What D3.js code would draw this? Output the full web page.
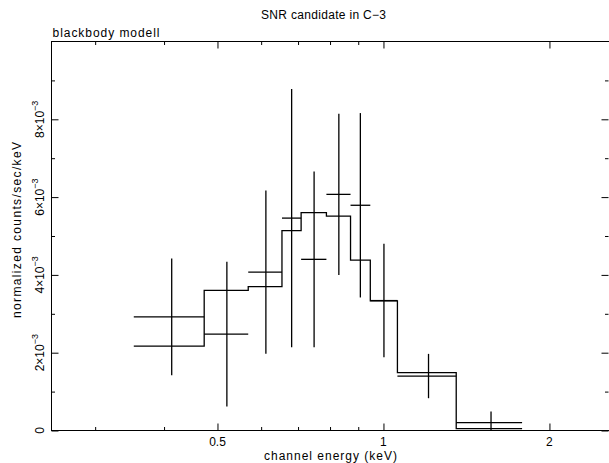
<!DOCTYPE html>
<html>
<head>
<meta charset="utf-8">
<script src="https://cdn.jsdelivr.net/npm/d3@7"></script>
<style>
  body { margin: 0; background: #fff; }
  text { font-family: "Liberation Sans", Arial, sans-serif; fill: #000; }
</style>
</head>
<body>
<svg width="609" height="463"></svg>
<script>
// channel bins (keV) and data
var binEdges = [0.3525, 0.473, 0.5685, 0.6545, 0.709, 0.788, 0.8715, 0.9465, 1.060, 1.355, 1.784];
var dataEnergy = [0.413, 0.520, 0.612, 0.6815, 0.7485, 0.830, 0.908, 1.002, 1.207, 1.567];
var dataRate = [2.92e-3, 2.48e-3, 4.07e-3, 5.46e-3, 4.40e-3, 6.07e-3, 5.79e-3, 3.34e-3, 1.40e-3, 0.20e-3];
var dataErr = [1.50e-3, 1.86e-3, 2.10e-3, 3.32e-3, 2.26e-3, 2.07e-3, 2.37e-3, 1.46e-3, 0.57e-3, 0.29e-3];
var modelRate = [2.17e-3, 3.60e-3, 3.70e-3, 5.14e-3, 5.60e-3, 5.51e-3, 4.38e-3, 3.33e-3, 1.49e-3, 0.05e-3];

var xMajor = [0.5, 1, 2];
var xMinor = [0.3, 0.4, 0.6, 0.7, 0.8, 0.9];
var yMajor = [0, 2e-3, 4e-3, 6e-3, 8e-3];
var yMinor = [1e-3, 3e-3, 5e-3, 7e-3, 9e-3];
var yTickText = ["0", "2", "4", "6", "8"];

var title = "SNR candidate in C\u22123";
var subtitle = "blackbody modell";
var xTitle = "channel energy (keV)";
var yTitle = "normalized counts/sec/keV";

function main(){
    var svg = d3.select("svg");
    var left = 51.5, right = 609.5, top = 41.5, bottom = 430.5;

    var xScale = d3.scaleLog().domain([0.25, 2.57]).range([left, right]);
    var yScale = d3.scaleLinear().domain([0, 0.01]).range([bottom, top]);

    // frame
    svg.append("rect")
        .attr("x", left).attr("y", top)
        .attr("width", right - left).attr("height", bottom - top)
        .attr("fill", "none").attr("stroke", "#000").attr("stroke-width", 1);

    function tickAxis(axis, pos, vals, size){
        var g = svg.append("g").attr("transform", pos)
            .call(axis.tickValues(vals).tickSize(size).tickSizeOuter(0).tickFormat(""));
        g.select(".domain").remove();
        g.selectAll("line").attr("stroke", "#000");
        return g;
    }

    tickAxis(d3.axisBottom(xScale), "translate(0," + bottom + ")", xMajor, -7);
    tickAxis(d3.axisBottom(xScale), "translate(0," + bottom + ")", xMinor, -3.5);
    tickAxis(d3.axisTop(xScale), "translate(0," + top + ")", xMajor, -7);
    tickAxis(d3.axisTop(xScale), "translate(0," + top + ")", xMinor, -3.5);
    tickAxis(d3.axisLeft(yScale), "translate(" + left + ",0)", yMajor, -7);
    tickAxis(d3.axisLeft(yScale), "translate(" + left + ",0)", yMinor, -3.5);
    tickAxis(d3.axisRight(yScale), "translate(" + (right - 1) + ",0)", yMajor, -7);
    tickAxis(d3.axisRight(yScale), "translate(" + (right - 1) + ",0)", yMinor, -3.5);

    // x tick labels
    svg.selectAll(".xlab").data(xMajor).enter().append("text")
        .attr("x", function(d){ return xScale(d); })
        .attr("y", 446)
        .attr("text-anchor", "middle")
        .style("font-size", "12px")
        .text(function(d){ return d; });

    // y tick labels, rotated, with 10^-3
    var yl = svg.selectAll(".ylab").data(yMajor).enter().append("text")
        .attr("transform", function(d){ return "translate(44," + yScale(d) + ") rotate(-90)"; })
        .attr("text-anchor", "middle")
        .style("font-size", "12px");
    yl.append("tspan").text(function(d, i){ return i == 0 ? "0" : yTickText[i] + "\u00d710"; });
    yl.filter(function(d, i){ return i > 0; })
        .append("tspan").attr("dy", -6).style("font-size", "9px").text("\u22123");

    // titles
    svg.append("text").attr("x", 323.5).attr("y", 19).attr("text-anchor", "middle")
        .style("font-size", "12px").attr("textLength", 125).attr("lengthAdjust", "spacing").text(title);
    svg.append("text").attr("x", 52.5).attr("y", 36.5)
        .style("font-size", "12px").attr("textLength", 107).attr("lengthAdjust", "spacing").text(subtitle);
    svg.append("text").attr("x", 330.5).attr("y", 460).attr("text-anchor", "middle")
        .style("font-size", "12px").attr("textLength", 133).attr("lengthAdjust", "spacing").text(xTitle);
    svg.append("text").attr("transform", "translate(20.5,230) rotate(-90)").attr("text-anchor", "middle")
        .style("font-size", "12px").attr("textLength", 176).attr("lengthAdjust", "spacing").text(yTitle);

    var plot = svg.append("g");

    // model histogram
    var steps = modelRate.map(function(v, i){ return [binEdges[i], v]; });
    steps.push([binEdges[binEdges.length - 1], modelRate[modelRate.length - 1]]);
    var line = d3.line()
        .x(function(d){ return xScale(d[0]); })
        .y(function(d){ return yScale(d[1]); })
        .curve(d3.curveStepAfter);
    plot.append("path").datum(steps)
        .attr("d", line)
        .attr("fill", "none").attr("stroke", "#000").attr("stroke-width", 1.3);

    // data crosses
    var pts = dataRate.map(function(v, i){ return {i: i, v: v}; });
    plot.selectAll(".xerr").data(pts).enter().append("line")
        .attr("x1", function(d){ return xScale(binEdges[d.i]); })
        .attr("x2", function(d){ return xScale(binEdges[d.i + 1]); })
        .attr("y1", function(d){ return yScale(d.v); })
        .attr("y2", function(d){ return yScale(d.v); })
        .attr("stroke", "#000").attr("stroke-width", 1.3);
    plot.selectAll(".yerr").data(pts).enter().append("line")
        .attr("x1", function(d){ return xScale(dataEnergy[d.i]); })
        .attr("x2", function(d){ return xScale(dataEnergy[d.i]); })
        .attr("y1", function(d){ return yScale(d.v + dataErr[d.i]); })
        .attr("y2", function(d){ return yScale(Math.max(0, d.v - dataErr[d.i])); })
        .attr("stroke", "#000").attr("stroke-width", 1.3);
}
main();
</script>
</body>
</html>
